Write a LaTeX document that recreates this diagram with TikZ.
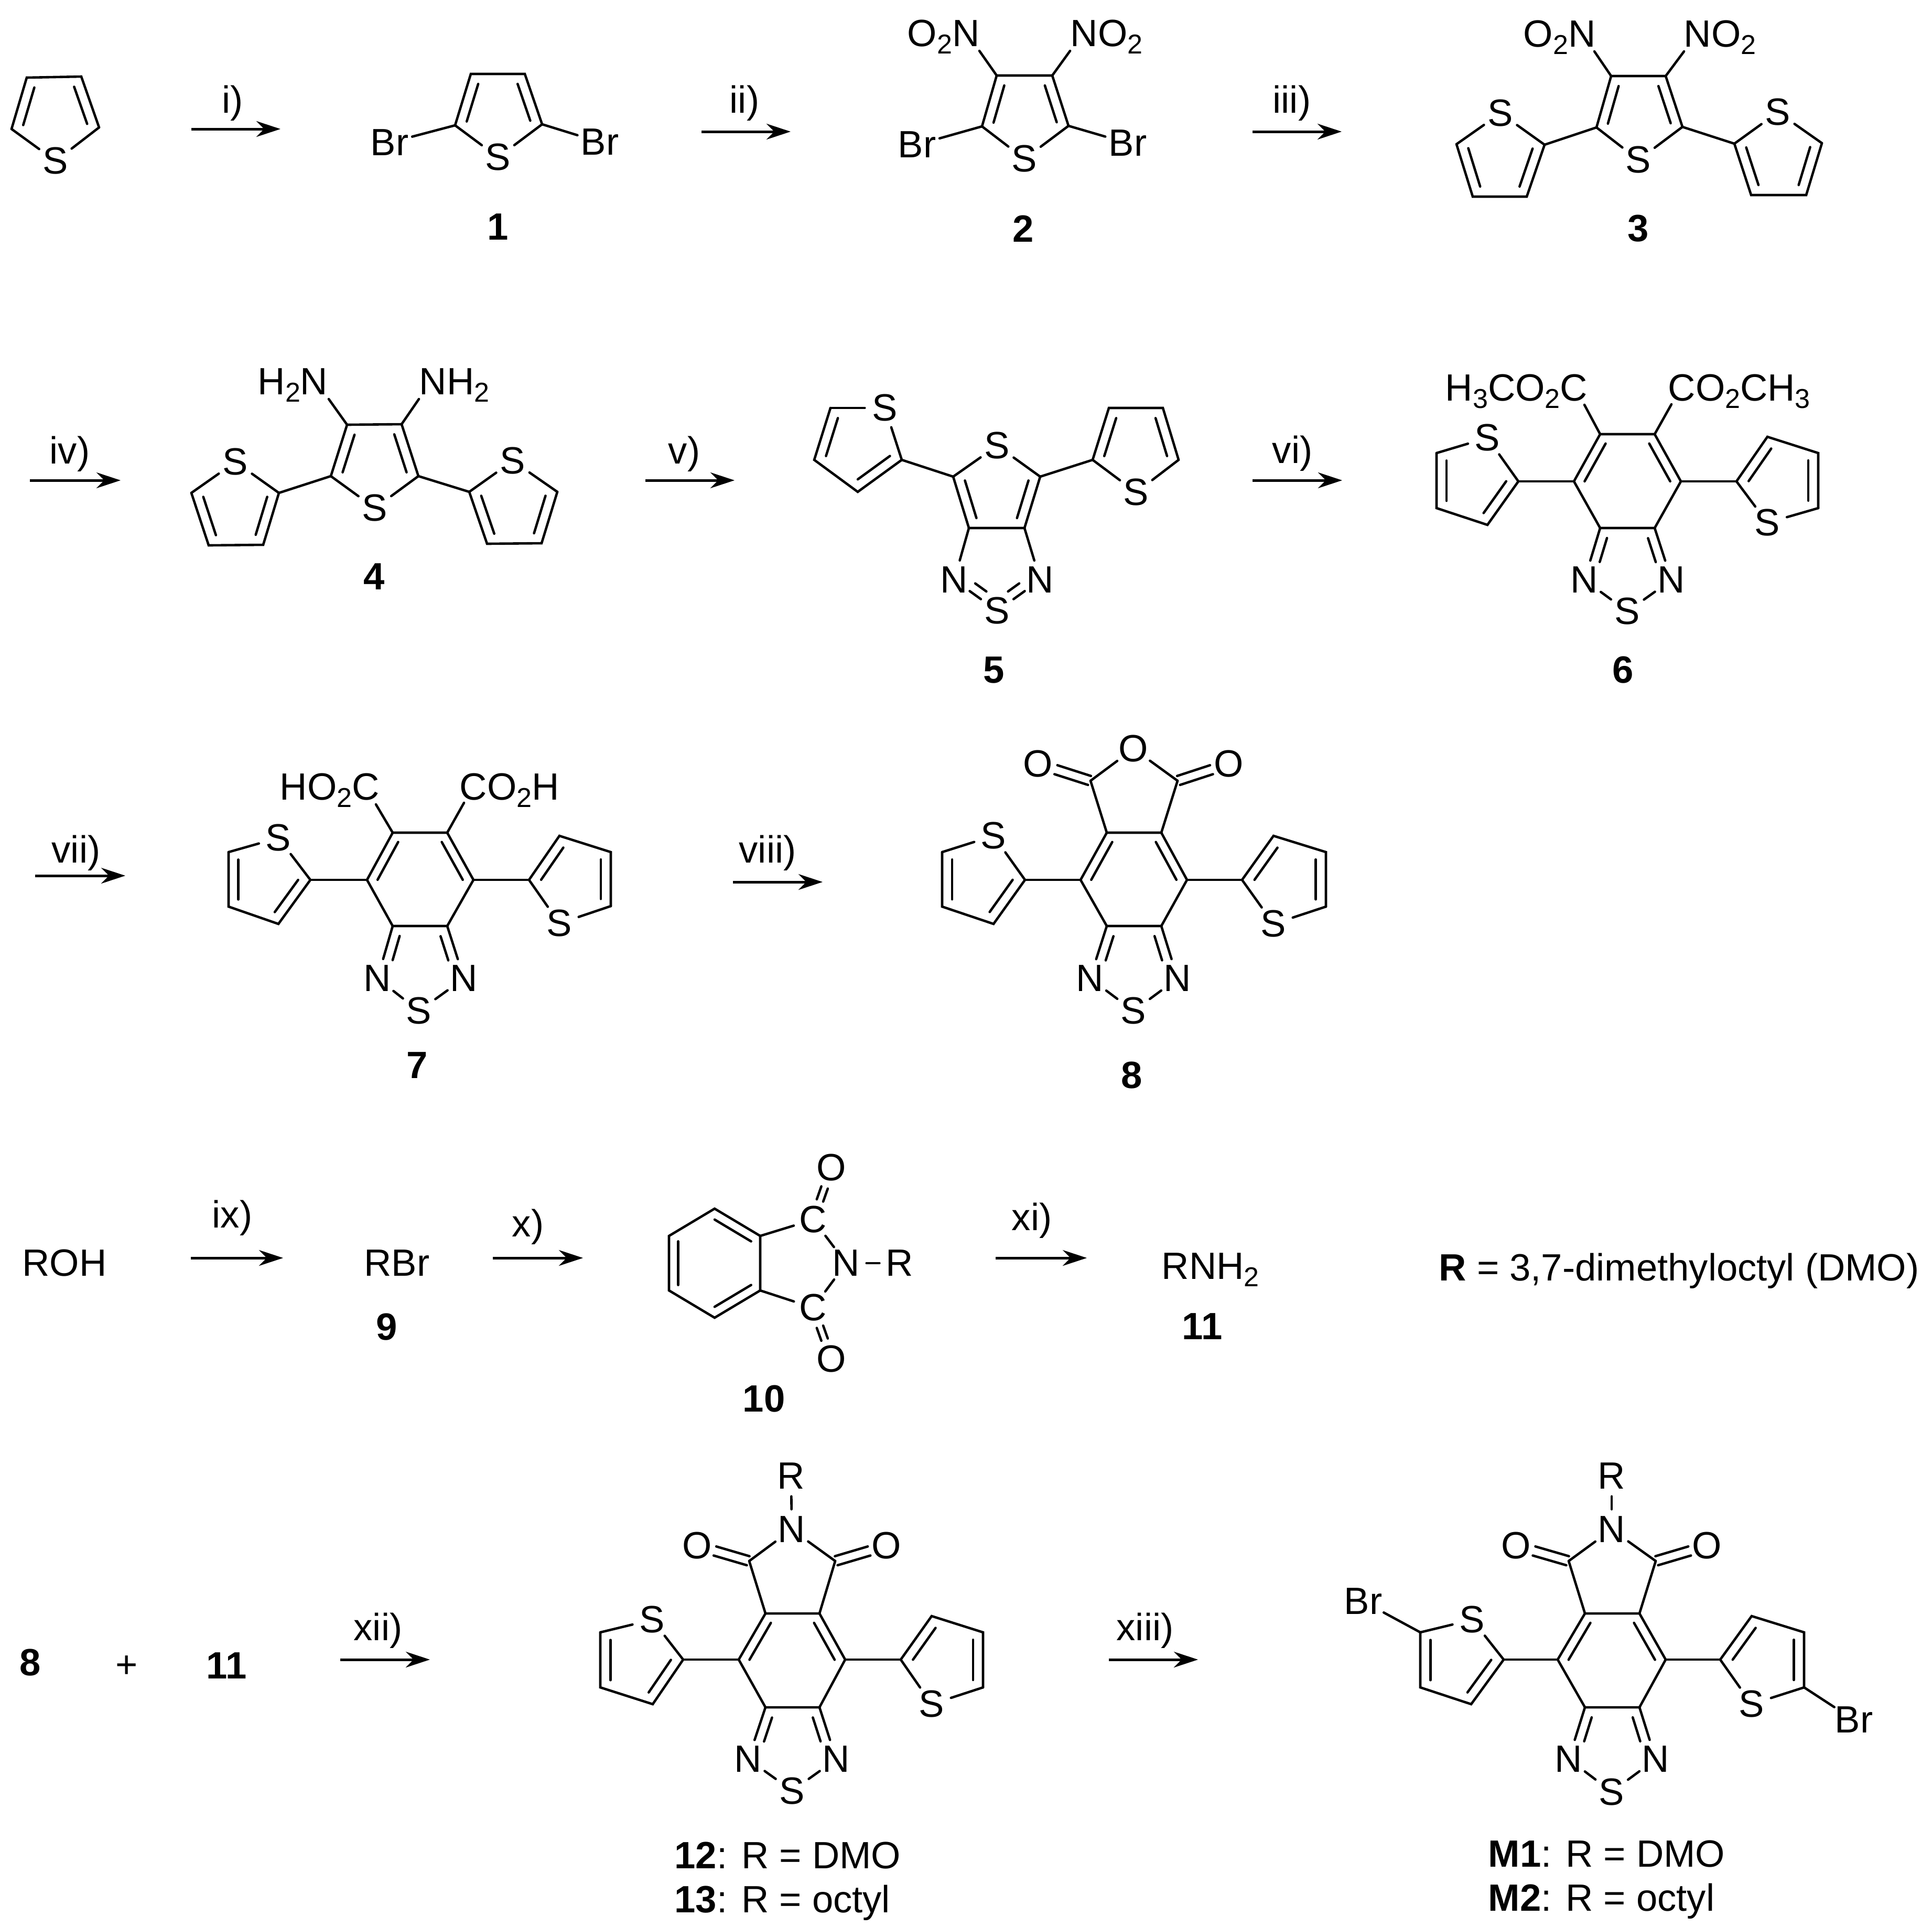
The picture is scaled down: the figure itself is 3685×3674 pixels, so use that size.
\documentclass[tikz,border=0pt]{standalone}
\usepackage{fontspec}
\setmainfont{Liberation Sans}
\usetikzlibrary{calc,arrows.meta}
\newcommand\mainsz{\fontsize{20.6}{25}\selectfont}
\newcommand\chemsub[1]{\raisebox{-.2em}{\fontsize{14.8}{16}\selectfont #1}}
\tikzset{
  bond/.style={line width=.046cm,line join=miter,line cap=round},
  atom/.style={circle,inner sep=0pt,minimum size=.76cm,font=\mainsz},
  grp/.style={inner sep=0pt,anchor=base west,font=\mainsz},
  cmpd/.style={inner sep=0pt,font=\mainsz\bfseries},
  plain/.style={inner sep=0pt,font=\mainsz},
  rarrow/.style={line width=.05cm,-{Stealth[length=.46cm,width=.3cm]}}
}
% inner line of a ring double bond
\newcommand\rb[4]{\draw[bond] ($(#1)!#4!(#3)$) -- ($(#2)!#4!(#3)$);}
% line parallel to a bond, fractions f1,f2, offset d
\newcommand\pb[5]{\draw[bond] ($(#1)!#3!(#2)!#5!90:(#2)$) -- ($(#1)!#4!(#2)!#5!90:(#2)$);}
% thiophene ring: prefix, a, S, d, c, b  (a=b, c=d)
\newcommand\thio[6]{%
  \coordinate (#1a) at (#2); \node[atom] (#1S) at (#3) {S};
  \coordinate (#1d) at (#4); \coordinate (#1c) at (#5); \coordinate (#1b) at (#6);
  \coordinate (#1X) at ($.2*(#1a)+.2*(#1S)+.2*(#1d)+.2*(#1c)+.2*(#1b)$);
  \draw[bond] (#1a) -- (#1S); \draw[bond] (#1S) -- (#1d);
  \draw[bond] (#1d) -- (#1c) -- (#1b) -- (#1a);
  \rb{#1a}{#1b}{#1X}{.27}\rb{#1c}{#1d}{#1X}{.27}}
% central benzene ring
\newcommand\hexa[7]{%
  \coordinate (#1TL) at (#2); \coordinate (#1TR) at (#3); \coordinate (#1R) at (#4);
  \coordinate (#1L) at (#5); \coordinate (#1BL) at (#6); \coordinate (#1BR) at (#7);
  \coordinate (#1X) at ($(#1TL)!.5!(#1BR)$);
  \draw[bond] (#1TL) -- (#1TR) -- (#1R) -- (#1BR) -- (#1BL) -- (#1L) -- cycle;
  \rb{#1TL}{#1L}{#1X}{.2}\rb{#1TR}{#1R}{#1X}{.2}}
% thiadiazole on the benzene ring
\newcommand\tdz[4]{%
  \node[atom] (#1Nl) at (#2) {N}; \node[atom] (#1Nr) at (#3) {N}; \node[atom] (#1Sb) at (#4) {S};
  \draw[bond] (#1BL) -- (#1Nl); \draw[bond] (#1BR) -- (#1Nr);
  \draw[bond] (#1Nl) -- (#1Sb); \draw[bond] (#1Nr) -- (#1Sb);
  \pb{#1BL}{#1Nl}{.14}{.6}{.18cm}\pb{#1BR}{#1Nr}{.14}{.6}{-.18cm}}
% C=O double bond
\newcommand\cdo[2]{\pb{#1}{#2}{.02}{.66}{.09cm}\pb{#1}{#2}{.02}{.66}{-.09cm}}
% reaction arrow: name,x1,x2,y,text,tx,ty
\newcommand\rxn[7]{%
  \coordinate (#1s) at (#2,#4); \coordinate (#1e) at (#3,#4);
  \draw[rarrow] (#1s) -- (#1e);
  \node[plain] (#1l) at (#6,#7) {#5};}
\begin{document}
\begin{tikzpicture}[x=.01cm,y=-.01cm]
\fill[white] (0,0) rectangle (3685,3674);
\useasboundingbox (0,0) rectangle (3685,3674);

% ===== row 1 =====
\thio{t0}{22,246}{106,307}{189,243}{155,146}{51,148}
\rxn{ra}{365}{535}{246}{i)}{444}{197}
\thio{m1}{868,239}{950,300}{1034,237}{1001,141}{898,141}
\node[atom] (m1BrL) at (743,272) {Br};
\node[atom] (m1BrR) at (1144,271) {Br};
\draw[bond] (m1a) -- (m1BrL); \draw[bond] (m1d) -- (m1BrR);
\node[cmpd] (l1) at (950,433) {1};

\rxn{rb}{1338}{1508}{251}{ii)}{1420}{197}
\thio{m2}{1873,241}{1954,303}{2038,240}{2007,144}{1901,144}
\node[atom] (m2BrL) at (1749,276) {Br};
\node[atom] (m2BrR) at (2151,273) {Br};
\draw[bond] (m2a) -- (m2BrL); \draw[bond] (m2d) -- (m2BrR);
\node[grp] (m2gl) at (1730,88) {O\chemsub{2}N};
\node[grp] (m2gr) at (2041,88) {NO\chemsub{2}};
\coordinate (m2el) at (1868,97); \coordinate (m2er) at (2041,97);
\draw[bond] (m2b) -- (m2el); \draw[bond] (m2c) -- (m2er);
\node[cmpd] (l2) at (1952,436) {2};

\rxn{rc}{2389}{2559}{251}{iii)}{2464}{197}
\thio{m3}{3045,243}{3125,305}{3209,242}{3177,145}{3073,145}
\thio{m3l}{2946,276}{2862,216}{2778,275}{2809,375}{2912,375}
\thio{m3r}{3308,274}{3391,214}{3475,273}{3445,372}{3340,372}
\draw[bond] (m3a) -- (m3la); \draw[bond] (m3d) -- (m3ra);
\node[grp] (m3gl) at (2905,89) {O\chemsub{2}N};
\node[grp] (m3gr) at (3211,89) {NO\chemsub{2}};
\coordinate (m3el) at (3041,98); \coordinate (m3er) at (3212,98);
\draw[bond] (m3b) -- (m3el); \draw[bond] (m3c) -- (m3er);
\node[cmpd] (l3) at (3125,436) {3};

% ===== row 2 =====
\rxn{rd}{57}{230}{916}{iv)}{133}{866}
\thio{m4}{631,908}{715,969}{798,908}{766,809}{662,810}
\thio{m4l}{532,940}{449,881}{365,940}{398,1040}{502,1039}
\thio{m4r}{895,938}{978,879}{1063,938}{1033,1036}{929,1037}
\draw[bond] (m4a) -- (m4la); \draw[bond] (m4d) -- (m4ra);
\node[grp] (m4gl) at (491,752) {H\chemsub{2}N};
\node[grp] (m4gr) at (799,752) {NH\chemsub{2}};
\coordinate (m4el) at (627,761); \coordinate (m4er) at (799,761);
\draw[bond] (m4b) -- (m4el); \draw[bond] (m4c) -- (m4er);
\node[cmpd] (l4) at (714,1100) {4};

\rxn{re}{1231}{1401}{916}{v)}{1305}{866}
\thio{m5}{1818,909}{1902,850}{1984,909}{1954,1007}{1848,1007}
\thio{m5l}{1720,877}{1688,778}{1584,778}{1553,877}{1636,938}
\thio{m5r}{2084,877}{2167,939}{2248,877}{2218,778}{2115,778}
\draw[bond] (m5a) -- (m5la); \draw[bond] (m5d) -- (m5ra);
\node[atom] (m5Nl) at (1820,1106) {N};
\node[atom] (m5Nr) at (1984,1106) {N};
\node[atom] (m5Sb) at (1902,1165) {S};
\draw[bond] (m5b) -- (m5Nl); \draw[bond] (m5c) -- (m5Nr);
\pb{m5Nl}{m5Sb}{.36}{.62}{.0cm}\pb{m5Nl}{m5Sb}{.36}{.62}{.18cm}
\pb{m5Nr}{m5Sb}{.36}{.62}{.0cm}\pb{m5Nr}{m5Sb}{.36}{.62}{-.18cm}
\node[cmpd] (l5) at (1896,1278) {5};

\rxn{rf}{2389}{2560}{916}{vi)}{2465}{865}
\hexa{m6}{3052,828}{3156,828}{3206,918}{3002,918}{3052,1007}{3156,1007}
\tdz{m6}{3022,1106}{3188,1106}{3104,1166}
\thio{m6l}{2896,918}{2837,835}{2740,864}{2740,969}{2837,1001}
\thio{m6r}{3312,918}{3371,997}{3468,969}{3468,864}{3371,833}
\draw[bond] (m6L) -- (m6la); \draw[bond] (m6R) -- (m6ra);
\node[grp] (m6gl) at (2756,764) {H\chemsub{3}CO\chemsub{2}C};
\node[grp] (m6gr) at (3181,764) {CO\chemsub{2}CH\chemsub{3}};
\coordinate (m6el) at (3022,772); \coordinate (m6er) at (3188,771);
\draw[bond] (m6TL) -- (m6el); \draw[bond] (m6TR) -- (m6er);
\node[cmpd] (l6) at (3096,1278) {6};

% ===== row 3 =====
\rxn{rg}{67}{239}{1670}{vii)}{145}{1627}
\hexa{m7}{749,1588}{853,1588}{903,1678}{700,1678}{749,1766}{853,1766}
\tdz{m7}{720,1866}{885,1866}{799,1928}
\thio{m7l}{592,1678}{531,1598}{436,1625}{436,1729}{531,1762}
\thio{m7r}{1009,1678}{1067,1761}{1165,1728}{1165,1625}{1067,1594}
\draw[bond] (m7L) -- (m7la); \draw[bond] (m7R) -- (m7ra);
\node[grp] (m7gl) at (533,1525) {HO\chemsub{2}C};
\node[grp] (m7gr) at (876,1525) {CO\chemsub{2}H};
\coordinate (m7el) at (717,1534); \coordinate (m7er) at (885,1531);
\draw[bond] (m7TL) -- (m7el); \draw[bond] (m7TR) -- (m7er);
\node[cmpd] (l7) at (796,2032) {7};

\rxn{rh}{1398}{1569}{1682}{viii)}{1464}{1627}
\hexa{m8}{2111,1588}{2215,1588}{2264,1678}{2061,1678}{2111,1766}{2215,1766}
\tdz{m8}{2079,1866}{2246,1866}{2162,1928}
\thio{m8l}{1955,1678}{1895,1594}{1797,1625}{1797,1729}{1895,1762}
\thio{m8r}{2369,1678}{2429,1762}{2529,1729}{2529,1625}{2429,1594}
\draw[bond] (m8L) -- (m8la); \draw[bond] (m8R) -- (m8ra);
\coordinate (m8Cl) at (2080,1489); \coordinate (m8Cr) at (2246,1489);
\node[atom] (m8Ot) at (2162,1428) {O};
\node[atom] (m8Ol) at (1980,1457) {O};
\node[atom] (m8Or) at (2344,1457) {O};
\draw[bond] (m8TL) -- (m8Cl); \draw[bond] (m8TR) -- (m8Cr);
\draw[bond] (m8Cl) -- (m8Ot); \draw[bond] (m8Cr) -- (m8Ot);
\cdo{m8Cl}{m8Ol}\cdo{m8Cr}{m8Or}
\node[cmpd] (l8) at (2159,2051) {8};

% ===== row 4 =====
\node[plain] (roh) at (123,2409) {ROH};
\rxn{ri}{364}{540}{2399}{ix)}{443}{2323}
\node[plain] (rbr) at (757,2409) {RBr};
\node[cmpd] (l9) at (738,2531) {9};
\rxn{rj}{940}{1112}{2399}{x)}{1007}{2340}
\coordinate (p1) at (1363,2305); \coordinate (p2) at (1450,2357);
\coordinate (p3) at (1450,2461); \coordinate (p4) at (1363,2513);
\coordinate (p5) at (1276,2461); \coordinate (p6) at (1276,2357);
\coordinate (pX) at (1363,2409);
\draw[bond] (p1) -- (p2) -- (p3) -- (p4) -- (p5) -- (p6) -- cycle;
\rb{p1}{p2}{pX}{.2}\rb{p3}{p4}{pX}{.2}\rb{p5}{p6}{pX}{.2}
\node[atom] (pCu) at (1551,2326) {C};
\node[atom] (pCd) at (1551,2494) {C};
\node[atom] (pN) at (1614,2409) {N};
\node[atom] (pR) at (1716,2409) {R};
\node[atom] (pOu) at (1586,2227) {O};
\node[atom] (pOd) at (1586,2592) {O};
\draw[bond] (p2) -- (pCu); \draw[bond] (p3) -- (pCd);
\draw[bond] (pCu) -- (pN); \draw[bond] (pCd) -- (pN); \draw[bond] (pN) -- (pR);
\pb{pCu}{pOu}{.37}{.62}{.065cm}\pb{pCu}{pOu}{.37}{.62}{-.065cm}
\pb{pCd}{pOd}{.37}{.62}{.065cm}\pb{pCd}{pOd}{.37}{.62}{-.065cm}
\node[cmpd] (l10) at (1457,2668) {10};
\rxn{rk}{1899}{2073}{2399}{xi)}{1968}{2328}
\node[grp] (rnh) at (2215,2439) {RNH\chemsub{2}};
\node[cmpd] (l11) at (2293,2530) {11};
\node[grp] (rdef) at (2744,2442) {\textbf{R} = 3,7-dimethyloctyl (DMO)};

% ===== row 5 =====
\node[cmpd] (a8) at (58,3171) {8};
\node[plain] (plus) at (242,3179) {+};
\node[cmpd] (a11) at (432,3177) {11};
\rxn{rl}{649}{820}{3165}{xii)}{721}{3110}
\hexa{m12}{1460,3077}{1563,3077}{1612,3165}{1409,3165}{1460,3256}{1563,3256}
\tdz{m12}{1427,3355}{1595,3355}{1511,3415}
\thio{m12l}{1303,3165}{1244,3089}{1145,3113}{1145,3218}{1245,3250}
\thio{m12r}{1718,3165}{1777,3250}{1875,3218}{1875,3113}{1777,3082}
\draw[bond] (m12L) -- (m12la); \draw[bond] (m12R) -- (m12ra);
\coordinate (m12Cl) at (1429,2977); \coordinate (m12Cr) at (1593,2977);
\node[atom] (m12N) at (1510,2917) {N};
\node[atom] (m12Rr) at (1509,2815) {R};
\node[atom] (m12Ol) at (1330,2948) {O};
\node[atom] (m12Or) at (1691,2948) {O};
\draw[bond] (m12TL) -- (m12Cl); \draw[bond] (m12TR) -- (m12Cr);
\draw[bond] (m12Cl) -- (m12N); \draw[bond] (m12Cr) -- (m12N); \draw[bond] (m12N) -- (m12Rr);
\cdo{m12Cl}{m12Ol}\cdo{m12Cr}{m12Or}
\node[grp] (l12) at (1286,3563) {\textbf{12}: R = DMO};
\node[grp] (l13) at (1286,3647) {\textbf{13}: R = octyl};

\rxn{rm}{2115}{2285}{3165}{xiii)}{2184}{3110}
\hexa{m1x}{3023,3077}{3127,3077}{3177,3165}{2971,3165}{3023,3256}{3127,3256}
\tdz{m1x}{2992,3355}{3158,3355}{3074,3417}
\thio{mxl}{2868,3165}{2808,3089}{2709,3113}{2709,3218}{2806,3250}
\thio{mxr}{3281,3165}{3341,3250}{3441,3218}{3441,3113}{3341,3082}
\draw[bond] (m1xL) -- (mxla); \draw[bond] (m1xR) -- (mxra);
\coordinate (m1xCl) at (2992,2977); \coordinate (m1xCr) at (3158,2977);
\node[atom] (m1xN) at (3074,2917) {N};
\node[atom] (m1xRr) at (3074,2815) {R};
\node[atom] (m1xOl) at (2892,2948) {O};
\node[atom] (m1xOr) at (3256,2948) {O};
\draw[bond] (m1xTL) -- (m1xCl); \draw[bond] (m1xTR) -- (m1xCr);
\draw[bond] (m1xCl) -- (m1xN); \draw[bond] (m1xCr) -- (m1xN); \draw[bond] (m1xN) -- (m1xRr);
\cdo{m1xCl}{m1xOl}\cdo{m1xCr}{m1xOr}
\node[atom] (mxBrL) at (2600,3054) {Br};
\node[atom] (mxBrR) at (3536,3280) {Br};
\draw[bond] (mxld) -- (mxBrL); \draw[bond] (mxrd) -- (mxBrR);
\node[grp] (lm1) at (2838,3560) {\textbf{M1}: R = DMO};
\node[grp] (lm2) at (2838,3644) {\textbf{M2}: R = octyl};
\end{tikzpicture}
\end{document}
